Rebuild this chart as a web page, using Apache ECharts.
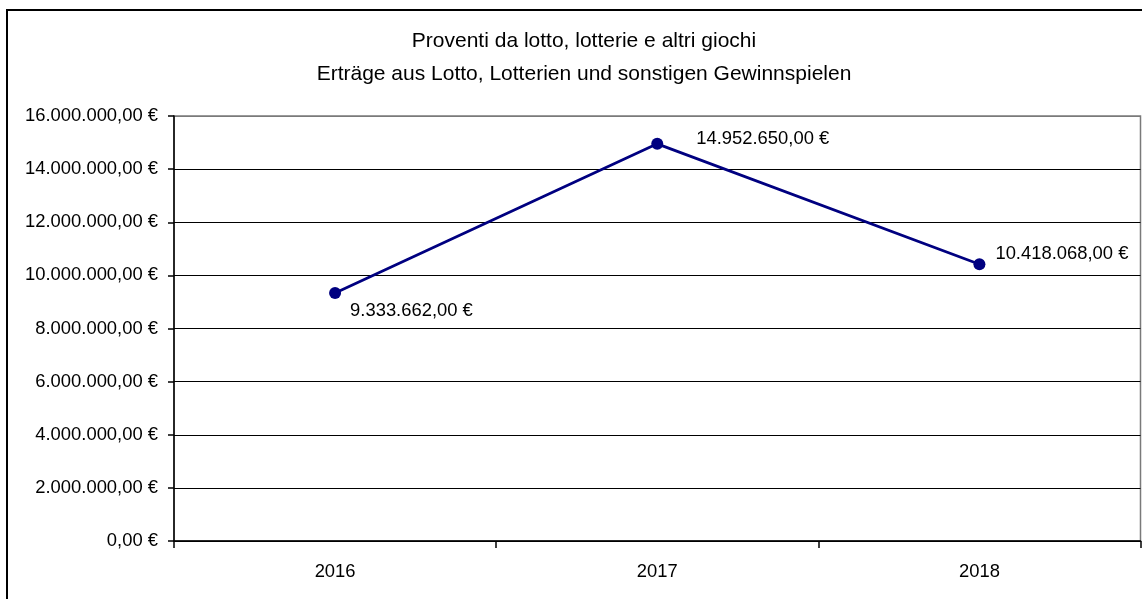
<!DOCTYPE html>
<html>
<head>
<meta charset="utf-8">
<script src="https://cdn.jsdelivr.net/npm/echarts@6/dist/echarts.min.js"></script>
<style>
html,body{margin:0;padding:0;background:#fff;}
#chart{width:1142px;height:599px;}
</style>
</head>
<body>
<div id="chart"></div>
<script>
const titleLines = ['Proventi da lotto, lotterie e altri giochi', 'Erträge aus Lotto, Lotterien und sonstigen Gewinnspielen'];
const categories = ['2016', '2017', '2018'];
const values = [9333662, 14952650, 10418068];
const yMin = 0, yMax = 16000000, yStep = 2000000;
const labelOffsets = [[9, 18], [33, -5], [10, -10]];

function fmtEuro(v) {
  const fixed = (Math.round(v * 100) / 100).toFixed(2).split('.');
  const intPart = fixed[0].replace(/\B(?=(\d{3})+(?!\d))/g, '.');
  return intPart + ',' + fixed[1] + ' €';
}

const font = 'Liberation Sans, Arial, sans-serif';
const chart = echarts.init(document.getElementById('chart'), null, {renderer: 'canvas'});
const nLines = Math.round((yMax - yMin) / yStep) + 1;
const splitColors = [];
for (let i = 0; i < nLines; i++) splitColors.push(i === nLines - 1 ? '#7a7a7a' : '#000000');

chart.setOption({
  animation: false,
  backgroundColor: '#ffffff',
  title: {
    text: titleLines.join('\n'),
    left: 579, top: 20, textAlign: 'center',
    textStyle: {fontFamily: font, fontSize: 21, fontWeight: 'normal', color: '#000', lineHeight: 33}
  },
  graphic: [{
    type: 'rect', shape: {x: 7, y: 10, width: 1150, height: 600},
    style: {fill: 'none', stroke: '#000', lineWidth: 2}, silent: true, z: 100
  }],
  grid: {left: 174, right: 1.5, top: 116, bottom: 58, show: true, borderColor: '#7a7a7a', borderWidth: 1.5, backgroundColor: 'transparent'},
  xAxis: {
    type: 'category', data: categories, boundaryGap: true,
    axisLine: {lineStyle: {color: '#000', width: 1.5}},
    axisTick: {show: true, length: 7, lineStyle: {color: '#000', width: 1.5}},
    axisLabel: {color: '#000', fontFamily: font, fontSize: 18.4, margin: 22},
    splitLine: {show: false}
  },
  yAxis: {
    type: 'value', min: yMin, max: yMax, interval: yStep,
    axisLine: {show: true, lineStyle: {color: '#000', width: 1.5}},
    axisTick: {show: true, length: 6, lineStyle: {color: '#000', width: 1.5}},
    axisLabel: {color: '#000', fontFamily: font, fontSize: 18.4, margin: 16, formatter: fmtEuro},
    splitLine: {show: true, lineStyle: {color: splitColors, width: 1.2}}
  },
  series: [{
    type: 'line', data: values.map((v, i) => ({
      value: v,
      label: {offset: labelOffsets[i]}
    })),
    symbol: 'circle', symbolSize: 12,
    lineStyle: {color: '#000080', width: 2.8},
    itemStyle: {color: '#000080'},
    label: {
      show: true, position: 'right', distance: 0,
      align: 'left', verticalAlign: 'middle',
      color: '#000', fontFamily: font, fontSize: 18.4,
      formatter: p => fmtEuro(p.value)
    }
  }]
});
</script>
</body>
</html>
